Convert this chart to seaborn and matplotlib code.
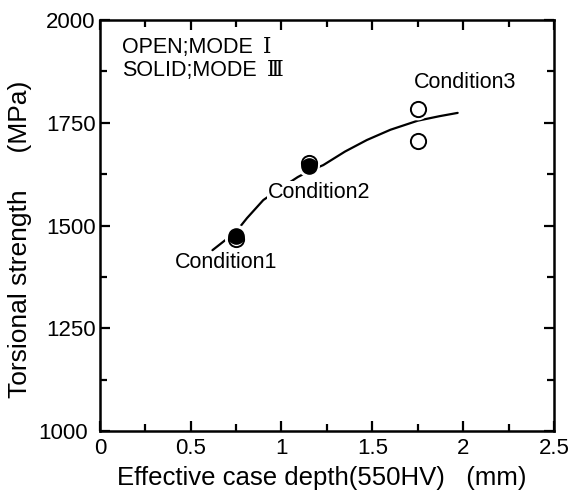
import matplotlib
matplotlib.use("Agg")
import matplotlib.pyplot as plt
from matplotlib.ticker import MultipleLocator, FixedLocator
import seaborn as sns
import pandas as pd

# Data
open_x = [0.75, 1.15, 1.75, 1.75]
open_y = [1468, 1652, 1783, 1706]
solid_x = [0.75, 1.15]
solid_y = [1475, 1645]
curve_x = [0.62, 0.75, 0.81, 0.90, 1.00, 1.09, 1.15, 1.23, 1.35, 1.47, 1.60, 1.75, 1.87, 1.97]
curve_y = [1440, 1485, 1518, 1562, 1592, 1618, 1632, 1647, 1680, 1708, 1733, 1755, 1766, 1774]
cond_labels = ["Condition1", "Condition2", "Condition3"]
cond_x = [0.695, 1.206, 2.01]
cond_y = [1409, 1581, 1849]
legend_texts = ["OPEN;MODE", "SOLID;MODE"]
legend_marks = ["Ⅰ", "Ⅲ"]
legend_y = [1934, 1878]
x_ticks = [0, 0.5, 1, 1.5, 2, 2.5]
x_ticklabels = ["0", "0.5", "1", "1.5", "2", "2.5"]
y_ticks = [1000, 1250, 1500, 1750, 2000]

sns.set_theme(style="ticks")
plt.rcParams['font.family'] = ['Liberation Sans', 'Noto Sans CJK JP', 'DejaVu Sans']
plt.rcParams['text.color'] = 'black'

fig = plt.figure(figsize=(5.74, 4.94), dpi=100)
ax = fig.add_axes([0.174, 0.1275, 0.791, 0.832])

curve = pd.DataFrame({"x": curve_x, "y": curve_y})
sns.lineplot(data=curve, x="x", y="y", ax=ax, color="black", lw=1.6, sort=False, zorder=1)

# white halos to break the curve around markers
allx = open_x + solid_x
ally = open_y + solid_y
ax.scatter(allx, ally, s=260, color="white", edgecolor="none", zorder=2)

op = pd.DataFrame({"x": open_x, "y": open_y})
so = pd.DataFrame({"x": solid_x, "y": solid_y})
sns.scatterplot(data=op, x="x", y="y", ax=ax, marker="o", s=120, facecolor="white",
                edgecolor="black", linewidth=1.4, zorder=3)
sns.scatterplot(data=so, x="x", y="y", ax=ax, marker="o", s=120, color="black",
                edgecolor="black", linewidth=1.0, zorder=4)

for t, x, y in zip(cond_labels, cond_x, cond_y):
    ax.text(x, y, t, ha="center", va="center", fontsize=15.5, zorder=5, color="black",
            bbox=dict(facecolor="white", edgecolor="none", pad=0.5))

for t, m, y, mx in zip(legend_texts, legend_marks, legend_y, [0.9, 0.92]):
    ax.text(0.121, y, t, ha="left", va="center", fontsize=15.5, color="black")
    ax.text(mx, y, m, ha="left", va="center", fontsize=15.5, color="black",
            family=['DejaVu Serif', 'Noto Sans CJK JP'])

ax.set_xlim(0, 2.5)
ax.set_ylim(1000, 2000)
ax.xaxis.set_major_locator(FixedLocator(x_ticks))
ax.xaxis.set_minor_locator(MultipleLocator(0.25))
ax.yaxis.set_major_locator(FixedLocator(y_ticks))
ax.yaxis.set_minor_locator(MultipleLocator(125))
ax.set_xticklabels(x_ticklabels)
ax.tick_params(which="both", direction="in", top=True, right=True, width=1.6, color="black",
               labelsize=16, labelcolor="black")
ax.tick_params(which="major", length=7)
ax.tick_params(axis="x", which="major", pad=5)
ax.tick_params(axis="y", which="major", pad=3)
ax.tick_params(which="minor", length=5)
try:
    ax.yaxis.get_major_ticks()[0].set_pad(9)
except Exception:
    pass
for s in ax.spines.values():
    s.set_linewidth(1.8)
    s.set_color("black")

ax.set_xlabel("Effective case depth(550HV)   (mm)", fontsize=18.5, color="black", va="center")
ax.xaxis.set_label_coords(0.489, -0.114)
ax.set_ylabel("Torsional strength     (MPa)", fontsize=19, color="black", va="center")
ax.yaxis.set_label_coords(-0.176, 0.467)

fig.savefig("out.png", dpi=100)
